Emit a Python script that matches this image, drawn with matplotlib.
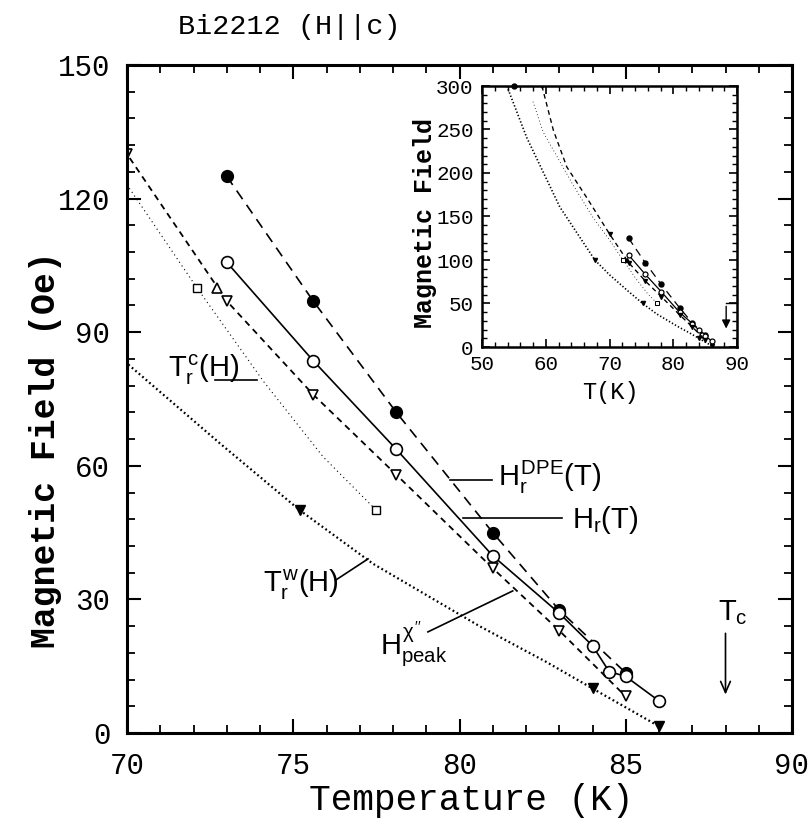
import matplotlib
matplotlib.use('Agg')
import matplotlib.pyplot as plt
from matplotlib.ticker import MultipleLocator

plt.rcParams['lines.scale_dashes'] = False
plt.rcParams['font.family'] = ['Liberation Mono', 'DejaVu Sans']
plt.rcParams['mathtext.fontset'] = 'custom'
plt.rcParams['mathtext.rm'] = 'Liberation Sans'
plt.rcParams['mathtext.it'] = 'Liberation Sans'
plt.rcParams['mathtext.bf'] = 'Liberation Sans:bold'
plt.rcParams['mathtext.sf'] = 'Liberation Sans'

# ---------------- data ----------------
# H_r^DPE(T): filled circles, long dashes
dpe_T = [73.0, 75.6, 78.1, 81.0, 83.0, 85.0]
dpe_H = [125, 97, 72, 45, 27.6, 13.5]
dpe_extra_T = [55.0]
dpe_extra_H = [300]

# H_r(T): open circles, solid
hr_T = [73.0, 75.6, 78.1, 81.0, 83.0, 84.0, 84.5, 85.0, 86.0]
hr_H = [105.7, 83.6, 63.7, 39.8, 26.9, 19.6, 13.8, 12.7, 7.2]

# H_peak chi'': open down triangles, medium dashes
hpeak_T = [59.4, 61.2, 63.3, 66.4, 70.0, 73.0, 75.6, 78.1, 81.0, 83.0, 85.0]
hpeak_H = [300, 249, 207, 172, 130, 97, 76, 58, 37, 23, 8.2]
hpeak_marks = [0, 4, 5, 6, 7, 8, 9, 10]
hpeak_up_T = [72.7]
hpeak_up_H = [100]

# T_r^c(H): open squares, fine dotted
trc_T = [58.0, 59.6, 64.3, 67.4, 70.1, 72.1, 74.1, 75.9, 77.5]
trc_H = [282, 247, 186, 149, 122, 100, 79, 62, 50]
trc_marks = [5, 8]

# T_r^w(H): filled down triangles, heavy dotted
trw_T = [53.9, 57.0, 62.2, 67.7, 70.0, 72.8, 75.2, 77.4, 80.6, 82.6, 84.0, 86.0]
trw_H = [300, 241, 161, 100, 83, 65, 50, 38, 24, 16, 10, 1.5]
trw_marks = [3, 6, 10, 11]

Tc = 88.0

x_ticks_main = [70, 75, 80, 85, 90]
y_ticks_main = [0, 30, 60, 90, 120, 150]
x_ticks_inset = [50, 60, 70, 80, 90]
y_ticks_inset = [0, 50, 100, 150, 200, 250, 300]

# ---------------- figure ----------------
W, H = 808, 822
fig = plt.figure(figsize=(W / 100, H / 100), dpi=100)

def fx(px):
    return px / W

def fy(py):
    return 1 - py / H

ax = fig.add_axes([fx(127), fy(733), fx(792) - fx(127), fy(65) - fy(733)])


def draw_series(a, ms_scale=1.0, lw_scale=1.0, small=False):
    k = ms_scale
    l = lw_scale
    # H_r^DPE
    a.plot(dpe_T, dpe_H, color='black', lw=1.2 * l, dashes=(7.5 * l, 5 * l),
           marker='o', ms=8.5 * k, mfc='black', mec='black')
    a.plot(dpe_extra_T, dpe_extra_H, ls='none', marker='o', ms=8.5 * k,
           mfc='black', mec='black', clip_on=False)
    # H_r
    a.plot(hr_T, hr_H, color='black', lw=1.2 * l, ls='-',
           marker='o', ms=8.5 * k, mfc='white', mec='black', mew=1.2 * l)
    # H_peak
    a.plot(hpeak_T, hpeak_H, color='black', lw=1.3 * l, dashes=(4.5 * l, 3.5 * l),
           marker='v', markevery=hpeak_marks, ms=7 * k,
           mfc='black' if small else 'white', mec='black', mew=1.2 * l)
    a.plot(hpeak_up_T, hpeak_up_H, ls='none', marker='^', ms=7 * k,
           mfc='black' if small else 'white', mec='black', mew=1.2 * l)
    # T_r^c
    a.plot(trc_T, trc_H, color='black', lw=0.8 * l, dashes=(0.8 * l, 2.4 * l),
           marker='s', markevery=trc_marks, ms=5.5 * k,
           mfc='white', mec='black', mew=1.0 * l)
    # T_r^w
    a.plot(trw_T, trw_H, color='black', lw=1.6 * l, dashes=(1.3 * l, 2.0 * l),
           marker='v', markevery=trw_marks, ms=7 * k,
           mfc='black', mec='black')


draw_series(ax)

ax.set_xlim(70, 90)
ax.set_ylim(0, 150)
ax.set_xticks(x_ticks_main)
ax.set_yticks(y_ticks_main)
ax.xaxis.set_minor_locator(MultipleLocator(1))
ax.yaxis.set_minor_locator(MultipleLocator(6))
ax.tick_params(which='both', direction='in', top=True, right=True)
ax.tick_params(which='major', length=10, width=1.5, labelsize=21)
ax.tick_params(which='minor', length=6, width=1.3)
ax.tick_params(axis='x', which='major', pad=14)
ax.tick_params(axis='y', which='major', pad=12)
for s in ax.spines.values():
    s.set_linewidth(2.2)

# annotations main
ann = dict(color='black', fontsize=21, ha='left', va='baseline')
ax.text(71.23, 80.0, r'$T_r^c(H)$', **ann)
ax.plot([72.65, 73.9], [79.3, 79.3], color='black', lw=1.2)

ax.text(81.16, 55.5, r'$H_r^{DPE}(T)$', **ann)
ax.plot([79.71, 80.98], [56.8, 56.8], color='black', lw=1.2)

ax.text(83.38, 46.0, r'$H_r(T)$', **ann)
ax.plot([80.1, 83.08], [48.3, 48.3], color='black', lw=1.2)

ax.text(77.6, 17.5, r"$H_{peak}^{\chi''}$", **ann)
ax.plot([79.05, 81.6], [22.7, 31.9], color='black', lw=1.2)

ax.text(74.1, 31.7, r'$T_r^w(H)$', **ann)
ax.plot([76.29, 77.25], [34.4, 39.1], color='black', lw=1.2)

ax.text(87.77, 25.4, r'$T_c$', **ann)
ax.annotate('', xy=(Tc, 8.0), xytext=(Tc, 23.0),
            arrowprops=dict(arrowstyle='->,head_length=0.8,head_width=0.35',
                            color='black', lw=1.2))

# axis labels / title
fig.text(fx(178), fy(34), 'Bi2212 (H||c)', fontsize=20.5, ha='left', va='baseline')
fig.text(fx(46), fy(450), 'Magnetic Field (Oe)', fontsize=25, fontweight='bold',
         rotation=90, ha='center', va='center')
fig.text(fx(471), fy(800), 'Temperature (K)', fontsize=26, ha='center', va='center')

# ---------------- inset ----------------
axi = fig.add_axes([fx(482), fy(347), fx(737) - fx(482), fy(86) - fy(347)])
draw_series(axi, ms_scale=0.42, lw_scale=0.75, small=True)
axi.set_xlim(50, 90)
axi.set_ylim(0, 300)
axi.set_xticks(x_ticks_inset)
axi.set_yticks(y_ticks_inset)
axi.xaxis.set_minor_locator(MultipleLocator(2))
axi.yaxis.set_minor_locator(MultipleLocator(10))
axi.tick_params(which='both', direction='in', top=True, right=True)
axi.tick_params(which='major', length=6, width=1.2, labelsize=15, pad=6)
axi.tick_params(which='minor', length=3.5, width=1.0)
for s in axi.spines.values():
    s.set_linewidth(1.8)

axi.plot([88.3, 90], [50, 50], color='black', lw=1.0, clip_on=False)
axi.annotate('', xy=(88.3, 18), xytext=(88.3, 50),
             arrowprops=dict(arrowstyle='-|>,head_length=0.5,head_width=0.25',
                             color='black', lw=1.0))

fig.text(fx(425), fy(223), 'Magnetic Field', fontsize=18, fontweight='bold',
         rotation=90, ha='center', va='center')
fig.text(fx(610), fy(392), 'T(K)', fontsize=17, ha='center', va='center')

fig.savefig('out.png', dpi=100)
